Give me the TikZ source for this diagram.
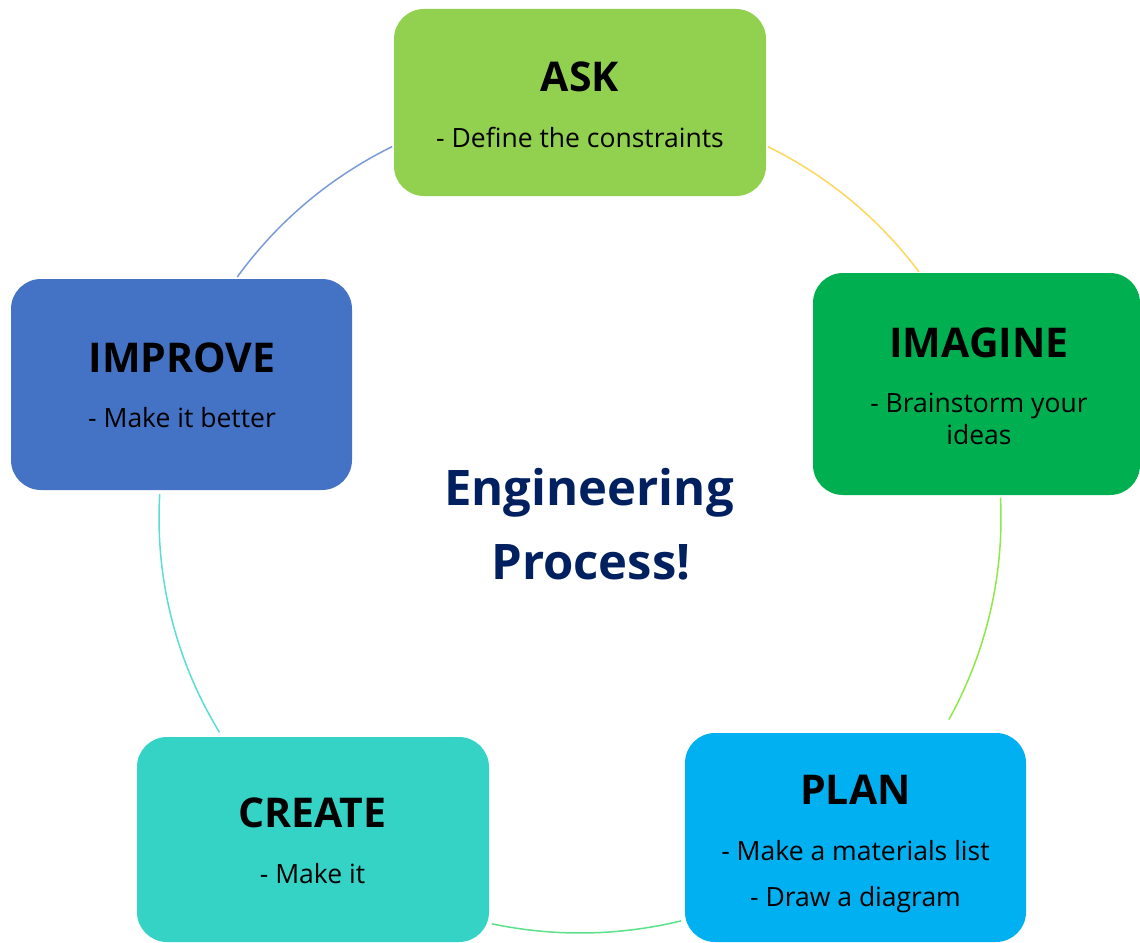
\documentclass[tikz,border=0pt]{standalone}
\usepackage{fontspec}
\setmainfont{Open Sans}
\usetikzlibrary{calc}
\definecolor{askc}{HTML}{92D050}
\definecolor{imagc}{HTML}{00B050}
\definecolor{planc}{HTML}{00B0F0}
\definecolor{creac}{HTML}{35D3C6}
\definecolor{imprc}{HTML}{4472C4}
\definecolor{navy}{HTML}{002060}
\definecolor{arcA}{HTML}{FFD65C}
\definecolor{arcB}{HTML}{8EE84A}
\definecolor{arcC}{HTML}{5CE08A}
\definecolor{arcD}{HTML}{5ADDD6}
\definecolor{arcE}{HTML}{7A9BD6}
\begin{document}
\begin{tikzpicture}[x=1pt,y=-1pt,
  box/.style={rectangle, rounded corners=30pt, inner sep=0pt, draw=none},
  ttl/.style={font=\fontsize{41}{41}\selectfont\bfseries, anchor=base, inner sep=0pt},
  sub/.style={font=\fontsize{26.5}{26.5}\selectfont, anchor=base, inner sep=0pt},
  mid/.style={font=\fontsize{49}{49}\selectfont\bfseries, text=navy, anchor=base, inner sep=0pt},
  arcline/.style={line width=1.5pt}]
\useasboundingbox (0,0) rectangle (1140,942);
\coordinate (c) at (580,518);
% arcs of the cycle
\draw[arcline, arcE] ($(c)+(-144.5:421 and 415)$) arc[start angle=-144.5, end angle=-116.5, x radius=421, y radius=415];
\draw[arcline, arcA] ($(c)+(-63.5:421 and 415)$) arc[start angle=-63.5, end angle=-36.4, x radius=421, y radius=415];
\draw[arcline, arcB] ($(c)+(-2.8:421 and 415)$) arc[start angle=-2.8, end angle=28.8, x radius=421, y radius=418];
\draw[arcline, arcC] ($(c)+(76.1:421 and 415)$) arc[start angle=76.1, end angle=102.1, x radius=421, y radius=415];
\draw[arcline, arcD] ($(c)+(148.9:421 and 415)$) arc[start angle=148.9, end angle=183.3, x radius=421, y radius=415];
% boxes
\node[box, fill=askc, minimum width=372pt, minimum height=187pt] (ask) at (580,102.5) {};
\node[box, fill=imagc, minimum width=327pt, minimum height=222pt] (imagine) at (976.5,384) {};
\node[box, fill=planc, minimum width=341pt, minimum height=209pt] (plan) at (855.5,837.5) {};
\node[box, fill=creac, minimum width=352pt, minimum height=205pt] (create) at (313,839.5) {};
\node[box, fill=imprc, minimum width=341pt, minimum height=211pt] (improve) at (181.5,384.5) {};
% texts
\node[ttl] (askT) at (580,91) {ASK};
\node[sub] (askS) at (580,147) {- Define the constraints};
\node[ttl] (imagT) at (979,357) {IMAGINE};
\node[sub] (imagS1) at (979,412) {- Brainstorm your};
\node[sub] (imagS2) at (979,444) {ideas};
\node[ttl] (planT) at (855.5,804) {PLAN};
\node[sub] (planS1) at (855.5,860) {- Make a materials list};
\node[sub] (planS2) at (855.5,906) {- Draw a diagram};
\node[ttl] (creaT) at (312.5,827) {CREATE};
\node[sub] (creaS) at (312.5,883) {- Make it};
\node[ttl] (imprT) at (182,372) {IMPROVE};
\node[sub] (imprS) at (182,427) {- Make it better};
\node[mid] (eng) at (589,505) {Engineering};
\node[mid] (proc) at (591,579) {Process!};
\end{tikzpicture}
\end{document}
